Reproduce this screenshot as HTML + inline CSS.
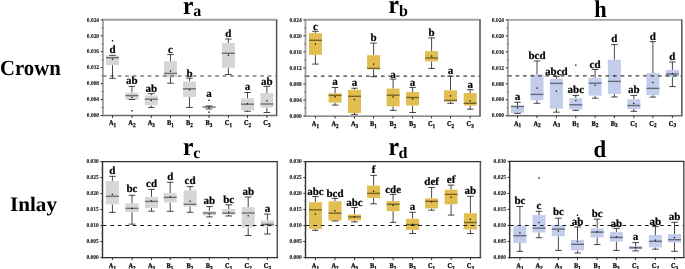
<!DOCTYPE html>
<html><head><meta charset="utf-8"><title>Boxplots</title>
<style>
html,body{margin:0;padding:0;background:#fff;}
body{width:685px;height:269px;overflow:hidden;}
svg{display:block;will-change:transform;text-rendering:geometricPrecision;font-family:"Liberation Serif",serif;font-weight:bold;}
.wk{stroke:#000;stroke-opacity:0.72;stroke-width:1.0;}
.md{stroke:#000;stroke-opacity:0.48;stroke-width:1.4;}
.dot{fill:#111;}
.dashT{stroke:#3a3a3a;stroke-width:1.2;stroke-dasharray:3.7 3.8;}
.dashB{stroke:#1a1a1a;stroke-width:1.2;stroke-dasharray:3.7 3.8;}
.frT{stroke:#a0a0a0;stroke-width:1.9;}
.frB{stroke:#2e2e2e;stroke-width:1.4;}
.frR{stroke:#555;stroke-width:1.5;}
.frX{stroke:#6a6a6a;stroke-width:1.45;}
.tk{stroke:#333;stroke-width:1.0;}
.tkm{stroke:#666;stroke-width:0.9;}
.lt{font-size:11px;text-anchor:middle;fill:#000;stroke:#000;stroke-width:0.22;}
.yl{font-size:6px;text-anchor:end;fill:#111;stroke:#111;stroke-width:0.1;}
.xl{font-size:7.4px;fill:#000;stroke:#000;stroke-width:0.25;}
.xs{font-size:6px;}
.ttl{font-size:24px;fill:#000;}
.sub{font-size:16px;fill:#000;}
.row{font-size:20.5px;fill:#000;}
</style></head>
<body>
<svg width="685" height="269" viewBox="0 0 685 269">
<text transform="translate(0 75.4) scale(0.96 1)" class="row" style="font-size:21.6px">Crown</text>
<text transform="translate(10 211.4) scale(1.03 1)" class="row">Inlay</text>
<text transform="translate(183 13.9) scale(0.92 1)" class="ttl" style="font-size:25.5px">r</text>
<text transform="translate(193.2 16.2) scale(1 1)" class="sub">a</text>
<text transform="translate(388.4 13.3) scale(0.92 1)" class="ttl" style="font-size:25.5px">r</text>
<text transform="translate(398.9 15.8) scale(1 1)" class="sub">b</text>
<text transform="translate(594.2 16.6) scale(0.93 1)" class="ttl">h</text>
<circle cx="191.5" cy="3.1" r="1.45" fill="#000"/>
<circle cx="396.8" cy="2.3" r="1.45" fill="#000"/>
<circle cx="191.5" cy="144.7" r="1.45" fill="#000"/>
<circle cx="397.0" cy="144.3" r="1.45" fill="#000"/>
<text transform="translate(183 155) scale(0.92 1)" class="ttl" style="font-size:25.5px">r</text>
<text transform="translate(193.2 158.0) scale(1 1)" class="sub">c</text>
<text transform="translate(388.4 154.9) scale(0.92 1)" class="ttl" style="font-size:25.5px">r</text>
<text transform="translate(398.6 157.5) scale(1 1)" class="sub">d</text>
<text transform="translate(593.6 157.2) scale(0.95 1)" class="ttl">d</text>
<line x1="112.5" y1="55.3" x2="112.5" y2="55.4" class="wk"/>
<line x1="112.5" y1="65.1" x2="112.5" y2="78.3" class="wk"/>
<rect x="106" y="55.4" width="13" height="9.7" fill="#d6d6d6"/>
<line x1="109.2" y1="55.3" x2="115.8" y2="55.3" class="wk"/>
<line x1="109.2" y1="78.3" x2="115.8" y2="78.3" class="wk"/>
<line x1="106" y1="57.7" x2="119" y2="57.7" class="md"/>
<rect x="111.85" y="58.55" width="1.3" height="1.3" class="dot"/>
<rect x="111.8" y="40.1" width="1.4" height="1.4" class="dot"/>
<text transform="translate(112.5 53.4) scale(1.0 1)" class="lt">d</text>
<line x1="131.9" y1="86.4" x2="131.9" y2="92.7" class="wk"/>
<line x1="131.9" y1="99.8" x2="131.9" y2="99.5" class="wk"/>
<rect x="125.4" y="92.7" width="13" height="7.1" fill="#d6d6d6"/>
<line x1="128.6" y1="86.4" x2="135.2" y2="86.4" class="wk"/>
<line x1="128.6" y1="99.5" x2="135.2" y2="99.5" class="wk"/>
<line x1="125.4" y1="95.6" x2="138.4" y2="95.6" class="md"/>
<rect x="131.25" y="96.75" width="1.3" height="1.3" class="dot"/>
<rect x="131.2" y="110.1" width="1.4" height="1.4" class="dot"/>
<text transform="translate(131.9 84) scale(1.0 1)" class="lt">ab</text>
<line x1="151.3" y1="93.7" x2="151.3" y2="95.6" class="wk"/>
<line x1="151.3" y1="105.4" x2="151.3" y2="107.4" class="wk"/>
<rect x="144.8" y="95.6" width="13" height="9.8" fill="#d6d6d6"/>
<line x1="148" y1="93.7" x2="154.6" y2="93.7" class="wk"/>
<line x1="148" y1="107.4" x2="154.6" y2="107.4" class="wk"/>
<line x1="144.8" y1="99.2" x2="157.8" y2="99.2" class="md"/>
<rect x="150.65" y="99.75" width="1.3" height="1.3" class="dot"/>
<text transform="translate(151.3 92.1) scale(1.0 1)" class="lt">ab</text>
<line x1="170.5" y1="54.6" x2="170.5" y2="61.1" class="wk"/>
<line x1="170.5" y1="77.1" x2="170.5" y2="83.2" class="wk"/>
<rect x="164" y="61.1" width="13" height="16" fill="#d6d6d6"/>
<line x1="167.2" y1="54.6" x2="173.8" y2="54.6" class="wk"/>
<line x1="167.2" y1="83.2" x2="173.8" y2="83.2" class="wk"/>
<line x1="164" y1="73.4" x2="177" y2="73.4" class="md"/>
<rect x="169.85" y="70.45" width="1.3" height="1.3" class="dot"/>
<text transform="translate(170.5 53.1) scale(1.0 1)" class="lt">c</text>
<line x1="189.5" y1="78.2" x2="189.5" y2="81.4" class="wk"/>
<line x1="189.5" y1="97" x2="189.5" y2="107.4" class="wk"/>
<rect x="183" y="81.4" width="13" height="15.6" fill="#d6d6d6"/>
<line x1="186.2" y1="78.2" x2="192.8" y2="78.2" class="wk"/>
<line x1="186.2" y1="107.4" x2="192.8" y2="107.4" class="wk"/>
<line x1="183" y1="88.8" x2="196" y2="88.8" class="md"/>
<rect x="188.85" y="89.05" width="1.3" height="1.3" class="dot"/>
<text transform="translate(189.5 77.3) scale(1.0 1)" class="lt">b</text>
<line x1="209" y1="106" x2="209" y2="106.5" class="wk"/>
<line x1="209" y1="107.8" x2="209" y2="109" class="wk"/>
<rect x="202.5" y="106.5" width="13" height="1.3" fill="#d6d6d6"/>
<line x1="205.7" y1="106" x2="212.3" y2="106" class="wk"/>
<line x1="205.7" y1="109" x2="212.3" y2="109" class="wk"/>
<line x1="202.5" y1="107" x2="215.5" y2="107" class="md"/>
<rect x="208.35" y="106.35" width="1.3" height="1.3" class="dot"/>
<rect x="208.3" y="99.6" width="1.4" height="1.4" class="dot"/>
<rect x="208.3" y="111.5" width="1.4" height="1.4" class="dot"/>
<text transform="translate(209 97) scale(1.0 1)" class="lt">a</text>
<line x1="228.4" y1="39" x2="228.4" y2="43.1" class="wk"/>
<line x1="228.4" y1="67.8" x2="228.4" y2="74.5" class="wk"/>
<rect x="221.9" y="43.1" width="13" height="24.7" fill="#d6d6d6"/>
<line x1="225.1" y1="39" x2="231.7" y2="39" class="wk"/>
<line x1="225.1" y1="74.5" x2="231.7" y2="74.5" class="wk"/>
<line x1="221.9" y1="53.3" x2="234.9" y2="53.3" class="md"/>
<rect x="227.75" y="54.55" width="1.3" height="1.3" class="dot"/>
<text transform="translate(228.4 37.3) scale(1.0 1)" class="lt">d</text>
<line x1="247.5" y1="92.5" x2="247.5" y2="98.3" class="wk"/>
<line x1="247.5" y1="110.4" x2="247.5" y2="111.3" class="wk"/>
<rect x="241" y="98.3" width="13" height="12.1" fill="#d6d6d6"/>
<line x1="244.2" y1="92.5" x2="250.8" y2="92.5" class="wk"/>
<line x1="244.2" y1="111.3" x2="250.8" y2="111.3" class="wk"/>
<line x1="241" y1="104.2" x2="254" y2="104.2" class="md"/>
<rect x="246.85" y="103.05" width="1.3" height="1.3" class="dot"/>
<text transform="translate(247.5 89.9) scale(1.0 1)" class="lt">a</text>
<line x1="266.9" y1="86.4" x2="266.9" y2="93.1" class="wk"/>
<line x1="266.9" y1="107.4" x2="266.9" y2="112.5" class="wk"/>
<rect x="260.4" y="93.1" width="13" height="14.3" fill="#d6d6d6"/>
<line x1="263.6" y1="86.4" x2="270.2" y2="86.4" class="wk"/>
<line x1="263.6" y1="112.5" x2="270.2" y2="112.5" class="wk"/>
<line x1="260.4" y1="104" x2="273.4" y2="104" class="md"/>
<rect x="266.25" y="100.15" width="1.3" height="1.3" class="dot"/>
<text transform="translate(266.9 85.3) scale(1.0 1)" class="lt">ab</text>
<line x1="102.7" y1="76" x2="276.6" y2="76" class="dashT"/>
<line x1="102.1" y1="19.8" x2="277.4" y2="19.8" class="frT"/>
<line x1="276.6" y1="19.8" x2="276.6" y2="115.5" class="frR"/>
<line x1="102.1" y1="115.5" x2="277.4" y2="115.5" class="frX"/>
<line x1="102.9" y1="19.8" x2="102.9" y2="116.3" class="frT"/>
<line x1="100.7" y1="19.8" x2="102.9" y2="19.8" class="tk"/>
<text transform="translate(99.1 21.55) scale(0.91 1)" class="yl">0.024</text>
<line x1="101.6" y1="27.78" x2="103.5" y2="27.78" class="tkm"/>
<line x1="100.7" y1="35.75" x2="102.9" y2="35.75" class="tk"/>
<text transform="translate(99.1 37.5) scale(0.91 1)" class="yl">0.020</text>
<line x1="101.6" y1="43.73" x2="103.5" y2="43.73" class="tkm"/>
<line x1="100.7" y1="51.7" x2="102.9" y2="51.7" class="tk"/>
<text transform="translate(99.1 53.45) scale(0.91 1)" class="yl">0.016</text>
<line x1="101.6" y1="59.68" x2="103.5" y2="59.68" class="tkm"/>
<line x1="100.7" y1="67.65" x2="102.9" y2="67.65" class="tk"/>
<text transform="translate(99.1 69.4) scale(0.91 1)" class="yl">0.012</text>
<line x1="101.6" y1="75.62" x2="103.5" y2="75.62" class="tkm"/>
<line x1="100.7" y1="83.6" x2="102.9" y2="83.6" class="tk"/>
<text transform="translate(99.1 85.35) scale(0.91 1)" class="yl">0.008</text>
<line x1="101.6" y1="91.58" x2="103.5" y2="91.58" class="tkm"/>
<line x1="100.7" y1="99.55" x2="102.9" y2="99.55" class="tk"/>
<text transform="translate(99.1 101.3) scale(0.91 1)" class="yl">0.004</text>
<line x1="101.6" y1="107.52" x2="103.5" y2="107.52" class="tkm"/>
<line x1="100.7" y1="115.5" x2="102.9" y2="115.5" class="tk"/>
<text transform="translate(99.1 117.25) scale(0.91 1)" class="yl">0.000</text>
<line x1="112.5" y1="115.5" x2="112.5" y2="117.9" class="tk"/>
<text transform="translate(108.9 125.3) scale(0.86 1)" class="xl">A<tspan class="xs" dy="1.8">1</tspan></text>
<line x1="131.9" y1="115.5" x2="131.9" y2="117.9" class="tk"/>
<text transform="translate(128.3 125.3) scale(0.86 1)" class="xl">A<tspan class="xs" dy="1.8">2</tspan></text>
<line x1="151.3" y1="115.5" x2="151.3" y2="117.9" class="tk"/>
<text transform="translate(147.7 125.3) scale(0.86 1)" class="xl">A<tspan class="xs" dy="1.8">3</tspan></text>
<line x1="170.5" y1="115.5" x2="170.5" y2="117.9" class="tk"/>
<text transform="translate(166.9 125.3) scale(0.86 1)" class="xl">B<tspan class="xs" dy="1.8">1</tspan></text>
<line x1="189.5" y1="115.5" x2="189.5" y2="117.9" class="tk"/>
<text transform="translate(185.9 125.3) scale(0.86 1)" class="xl">B<tspan class="xs" dy="1.8">2</tspan></text>
<line x1="209" y1="115.5" x2="209" y2="117.9" class="tk"/>
<text transform="translate(205.4 125.3) scale(0.86 1)" class="xl">B<tspan class="xs" dy="1.8">3</tspan></text>
<line x1="228.4" y1="115.5" x2="228.4" y2="117.9" class="tk"/>
<text transform="translate(224.8 125.3) scale(0.86 1)" class="xl">C<tspan class="xs" dy="1.8">1</tspan></text>
<line x1="247.5" y1="115.5" x2="247.5" y2="117.9" class="tk"/>
<text transform="translate(243.9 125.3) scale(0.86 1)" class="xl">C<tspan class="xs" dy="1.8">2</tspan></text>
<line x1="266.9" y1="115.5" x2="266.9" y2="117.9" class="tk"/>
<text transform="translate(263.3 125.3) scale(0.86 1)" class="xl">C<tspan class="xs" dy="1.8">3</tspan></text>
<line x1="315.4" y1="31.3" x2="315.4" y2="33.2" class="wk"/>
<line x1="315.4" y1="54.8" x2="315.4" y2="64.1" class="wk"/>
<rect x="308.9" y="33.2" width="13" height="21.6" fill="#e2be50"/>
<line x1="312.1" y1="31.3" x2="318.7" y2="31.3" class="wk"/>
<line x1="312.1" y1="64.1" x2="318.7" y2="64.1" class="wk"/>
<line x1="308.9" y1="40.3" x2="321.9" y2="40.3" class="md"/>
<rect x="314.75" y="43.35" width="1.3" height="1.3" class="dot"/>
<text transform="translate(315.4 29.7) scale(1.0 1)" class="lt">c</text>
<line x1="335.1" y1="87.5" x2="335.1" y2="93.3" class="wk"/>
<line x1="335.1" y1="102.6" x2="335.1" y2="105.1" class="wk"/>
<rect x="328.6" y="93.3" width="13" height="9.3" fill="#e2be50"/>
<line x1="331.8" y1="87.5" x2="338.4" y2="87.5" class="wk"/>
<line x1="331.8" y1="105.1" x2="338.4" y2="105.1" class="wk"/>
<line x1="328.6" y1="95.4" x2="341.6" y2="95.4" class="md"/>
<rect x="334.45" y="96.15" width="1.3" height="1.3" class="dot"/>
<text transform="translate(335.1 85.3) scale(1.0 1)" class="lt">a</text>
<line x1="354.5" y1="88.2" x2="354.5" y2="89.8" class="wk"/>
<line x1="354.5" y1="113" x2="354.5" y2="114.4" class="wk"/>
<rect x="348" y="89.8" width="13" height="23.2" fill="#e2be50"/>
<line x1="351.2" y1="88.2" x2="357.8" y2="88.2" class="wk"/>
<line x1="351.2" y1="114.4" x2="357.8" y2="114.4" class="wk"/>
<line x1="348" y1="96.3" x2="361" y2="96.3" class="md"/>
<rect x="353.85" y="98.85" width="1.3" height="1.3" class="dot"/>
<text transform="translate(354.5 85.6) scale(1.0 1)" class="lt">a</text>
<line x1="373.6" y1="43.1" x2="373.6" y2="55.2" class="wk"/>
<line x1="373.6" y1="69.3" x2="373.6" y2="76.7" class="wk"/>
<rect x="367.1" y="55.2" width="13" height="14.1" fill="#e2be50"/>
<line x1="370.3" y1="43.1" x2="376.9" y2="43.1" class="wk"/>
<line x1="370.3" y1="76.7" x2="376.9" y2="76.7" class="wk"/>
<line x1="367.1" y1="68.4" x2="380.1" y2="68.4" class="md"/>
<rect x="372.95" y="63.45" width="1.3" height="1.3" class="dot"/>
<text transform="translate(373.6 41.3) scale(1.0 1)" class="lt">b</text>
<line x1="393.1" y1="79.1" x2="393.1" y2="88.6" class="wk"/>
<line x1="393.1" y1="106.3" x2="393.1" y2="110.4" class="wk"/>
<rect x="386.6" y="88.6" width="13" height="17.7" fill="#e2be50"/>
<line x1="389.8" y1="79.1" x2="396.4" y2="79.1" class="wk"/>
<line x1="389.8" y1="110.4" x2="396.4" y2="110.4" class="wk"/>
<line x1="386.6" y1="95.2" x2="399.6" y2="95.2" class="md"/>
<rect x="392.45" y="96.25" width="1.3" height="1.3" class="dot"/>
<text transform="translate(393.1 78.1) scale(1.0 1)" class="lt">a</text>
<line x1="412.6" y1="87.4" x2="412.6" y2="92" class="wk"/>
<line x1="412.6" y1="105.5" x2="412.6" y2="112.5" class="wk"/>
<rect x="406.1" y="92" width="13" height="13.5" fill="#e2be50"/>
<line x1="409.3" y1="87.4" x2="415.9" y2="87.4" class="wk"/>
<line x1="409.3" y1="112.5" x2="415.9" y2="112.5" class="wk"/>
<line x1="406.1" y1="97.5" x2="419.1" y2="97.5" class="md"/>
<rect x="411.95" y="98.35" width="1.3" height="1.3" class="dot"/>
<text transform="translate(412.6 85.6) scale(1.0 1)" class="lt">a</text>
<line x1="431.6" y1="37.9" x2="431.6" y2="51.1" class="wk"/>
<line x1="431.6" y1="61.3" x2="431.6" y2="68.4" class="wk"/>
<rect x="425.1" y="51.1" width="13" height="10.2" fill="#e2be50"/>
<line x1="428.3" y1="37.9" x2="434.9" y2="37.9" class="wk"/>
<line x1="428.3" y1="68.4" x2="434.9" y2="68.4" class="wk"/>
<line x1="425.1" y1="58" x2="438.1" y2="58" class="md"/>
<rect x="430.95" y="55.45" width="1.3" height="1.3" class="dot"/>
<text transform="translate(431.6 35.7) scale(1.0 1)" class="lt">b</text>
<line x1="450.5" y1="76.2" x2="450.5" y2="90.3" class="wk"/>
<line x1="450.5" y1="101.4" x2="450.5" y2="103.3" class="wk"/>
<rect x="444" y="90.3" width="13" height="11.1" fill="#e2be50"/>
<line x1="447.2" y1="76.2" x2="453.8" y2="76.2" class="wk"/>
<line x1="447.2" y1="103.3" x2="453.8" y2="103.3" class="wk"/>
<line x1="444" y1="100.5" x2="457" y2="100.5" class="md"/>
<rect x="449.85" y="95.25" width="1.3" height="1.3" class="dot"/>
<text transform="translate(450.5 74.1) scale(1.0 1)" class="lt">a</text>
<line x1="470.2" y1="89.7" x2="470.2" y2="93.1" class="wk"/>
<line x1="470.2" y1="105.5" x2="470.2" y2="109.2" class="wk"/>
<rect x="463.7" y="93.1" width="13" height="12.4" fill="#e2be50"/>
<line x1="466.9" y1="89.7" x2="473.5" y2="89.7" class="wk"/>
<line x1="466.9" y1="109.2" x2="473.5" y2="109.2" class="wk"/>
<line x1="463.7" y1="103.3" x2="476.7" y2="103.3" class="md"/>
<rect x="469.55" y="100.25" width="1.3" height="1.3" class="dot"/>
<text transform="translate(470.2 88.1) scale(1.0 1)" class="lt">a</text>
<line x1="305.9" y1="76.2" x2="480" y2="76.2" class="dashT"/>
<line x1="304.7" y1="19.8" x2="480.8" y2="19.8" class="frT"/>
<line x1="480" y1="19.8" x2="480" y2="116.1" class="frR"/>
<line x1="304.7" y1="116.1" x2="480.8" y2="116.1" class="frX"/>
<line x1="305.5" y1="19.8" x2="305.5" y2="116.9" class="frT"/>
<line x1="303.3" y1="19.8" x2="305.5" y2="19.8" class="tk"/>
<text transform="translate(301.7 21.55) scale(0.91 1)" class="yl">0.024</text>
<line x1="304.2" y1="27.83" x2="306.1" y2="27.83" class="tkm"/>
<line x1="303.3" y1="35.85" x2="305.5" y2="35.85" class="tk"/>
<text transform="translate(301.7 37.6) scale(0.91 1)" class="yl">0.020</text>
<line x1="304.2" y1="43.88" x2="306.1" y2="43.88" class="tkm"/>
<line x1="303.3" y1="51.9" x2="305.5" y2="51.9" class="tk"/>
<text transform="translate(301.7 53.65) scale(0.91 1)" class="yl">0.016</text>
<line x1="304.2" y1="59.93" x2="306.1" y2="59.93" class="tkm"/>
<line x1="303.3" y1="67.95" x2="305.5" y2="67.95" class="tk"/>
<text transform="translate(301.7 69.7) scale(0.91 1)" class="yl">0.012</text>
<line x1="304.2" y1="75.98" x2="306.1" y2="75.98" class="tkm"/>
<line x1="303.3" y1="84" x2="305.5" y2="84" class="tk"/>
<text transform="translate(301.7 85.75) scale(0.91 1)" class="yl">0.008</text>
<line x1="304.2" y1="92.03" x2="306.1" y2="92.03" class="tkm"/>
<line x1="303.3" y1="100.05" x2="305.5" y2="100.05" class="tk"/>
<text transform="translate(301.7 101.8) scale(0.91 1)" class="yl">0.004</text>
<line x1="304.2" y1="108.08" x2="306.1" y2="108.08" class="tkm"/>
<line x1="303.3" y1="116.1" x2="305.5" y2="116.1" class="tk"/>
<text transform="translate(301.7 117.85) scale(0.91 1)" class="yl">0.000</text>
<line x1="315.4" y1="116.1" x2="315.4" y2="118.5" class="tk"/>
<text transform="translate(311.8 125.9) scale(0.86 1)" class="xl">A<tspan class="xs" dy="1.8">1</tspan></text>
<line x1="335.1" y1="116.1" x2="335.1" y2="118.5" class="tk"/>
<text transform="translate(331.5 125.9) scale(0.86 1)" class="xl">A<tspan class="xs" dy="1.8">2</tspan></text>
<line x1="354.5" y1="116.1" x2="354.5" y2="118.5" class="tk"/>
<text transform="translate(350.9 125.9) scale(0.86 1)" class="xl">A<tspan class="xs" dy="1.8">3</tspan></text>
<line x1="373.6" y1="116.1" x2="373.6" y2="118.5" class="tk"/>
<text transform="translate(370 125.9) scale(0.86 1)" class="xl">B<tspan class="xs" dy="1.8">1</tspan></text>
<line x1="393.1" y1="116.1" x2="393.1" y2="118.5" class="tk"/>
<text transform="translate(389.5 125.9) scale(0.86 1)" class="xl">B<tspan class="xs" dy="1.8">2</tspan></text>
<line x1="412.6" y1="116.1" x2="412.6" y2="118.5" class="tk"/>
<text transform="translate(409 125.9) scale(0.86 1)" class="xl">B<tspan class="xs" dy="1.8">3</tspan></text>
<line x1="431.6" y1="116.1" x2="431.6" y2="118.5" class="tk"/>
<text transform="translate(428 125.9) scale(0.86 1)" class="xl">C<tspan class="xs" dy="1.8">1</tspan></text>
<line x1="450.5" y1="116.1" x2="450.5" y2="118.5" class="tk"/>
<text transform="translate(446.9 125.9) scale(0.86 1)" class="xl">C<tspan class="xs" dy="1.8">2</tspan></text>
<line x1="470.2" y1="116.1" x2="470.2" y2="118.5" class="tk"/>
<text transform="translate(466.6 125.9) scale(0.86 1)" class="xl">C<tspan class="xs" dy="1.8">3</tspan></text>
<line x1="517.5" y1="102.3" x2="517.5" y2="105.7" class="wk"/>
<line x1="517.5" y1="113" x2="517.5" y2="113.4" class="wk"/>
<rect x="511" y="105.7" width="13" height="7.3" fill="#c2cdeb"/>
<line x1="514.2" y1="102.3" x2="520.8" y2="102.3" class="wk"/>
<line x1="514.2" y1="113.4" x2="520.8" y2="113.4" class="wk"/>
<line x1="511" y1="106.4" x2="524" y2="106.4" class="md"/>
<rect x="516.85" y="107.15" width="1.3" height="1.3" class="dot"/>
<text transform="translate(517.5 100) scale(1.0 1)" class="lt">a</text>
<line x1="537" y1="61" x2="537" y2="74.5" class="wk"/>
<line x1="537" y1="100.2" x2="537" y2="103.3" class="wk"/>
<rect x="530.5" y="74.5" width="13" height="25.7" fill="#c2cdeb"/>
<line x1="533.7" y1="61" x2="540.3" y2="61" class="wk"/>
<line x1="533.7" y1="103.3" x2="540.3" y2="103.3" class="wk"/>
<line x1="530.5" y1="94.4" x2="543.5" y2="94.4" class="md"/>
<rect x="536.35" y="87.45" width="1.3" height="1.3" class="dot"/>
<text transform="translate(537 58.6) scale(1.0 1)" class="lt">bcd</text>
<line x1="556.4" y1="76.4" x2="556.4" y2="78.8" class="wk"/>
<line x1="556.4" y1="108.7" x2="556.4" y2="112.2" class="wk"/>
<rect x="549.9" y="78.8" width="13" height="29.9" fill="#c2cdeb"/>
<line x1="553.1" y1="76.4" x2="559.7" y2="76.4" class="wk"/>
<line x1="553.1" y1="112.2" x2="559.7" y2="112.2" class="wk"/>
<line x1="549.9" y1="83.4" x2="562.9" y2="83.4" class="md"/>
<rect x="555.75" y="90.45" width="1.3" height="1.3" class="dot"/>
<text transform="translate(556.4 74.6) scale(1.0 1)" class="lt">abcd</text>
<line x1="575.8" y1="95.4" x2="575.8" y2="98.1" class="wk"/>
<line x1="575.8" y1="109.5" x2="575.8" y2="110.4" class="wk"/>
<rect x="569.3" y="98.1" width="13" height="11.4" fill="#c2cdeb"/>
<line x1="572.5" y1="95.4" x2="579.1" y2="95.4" class="wk"/>
<line x1="572.5" y1="110.4" x2="579.1" y2="110.4" class="wk"/>
<line x1="569.3" y1="104.8" x2="582.3" y2="104.8" class="md"/>
<rect x="575.15" y="99.85" width="1.3" height="1.3" class="dot"/>
<rect x="575.1" y="64.5" width="1.4" height="1.4" class="dot"/>
<text transform="translate(575.8 93.3) scale(1.0 1)" class="lt">abc</text>
<line x1="595.1" y1="69.5" x2="595.1" y2="77.8" class="wk"/>
<line x1="595.1" y1="95.6" x2="595.1" y2="98.2" class="wk"/>
<rect x="588.6" y="77.8" width="13" height="17.8" fill="#c2cdeb"/>
<line x1="591.8" y1="69.5" x2="598.4" y2="69.5" class="wk"/>
<line x1="591.8" y1="98.2" x2="598.4" y2="98.2" class="wk"/>
<line x1="588.6" y1="83.2" x2="601.6" y2="83.2" class="md"/>
<rect x="594.45" y="84.65" width="1.3" height="1.3" class="dot"/>
<text transform="translate(595.1 68.1) scale(1.0 1)" class="lt">cd</text>
<line x1="614.4" y1="44.6" x2="614.4" y2="59.7" class="wk"/>
<line x1="614.4" y1="94" x2="614.4" y2="97" class="wk"/>
<rect x="607.9" y="59.7" width="13" height="34.3" fill="#c2cdeb"/>
<line x1="611.1" y1="44.6" x2="617.7" y2="44.6" class="wk"/>
<line x1="611.1" y1="97" x2="617.7" y2="97" class="wk"/>
<line x1="607.9" y1="81.4" x2="620.9" y2="81.4" class="md"/>
<rect x="613.75" y="75.15" width="1.3" height="1.3" class="dot"/>
<text transform="translate(614.4 42.2) scale(1.0 1)" class="lt">d</text>
<line x1="633.8" y1="95.4" x2="633.8" y2="99.3" class="wk"/>
<line x1="633.8" y1="109" x2="633.8" y2="111.3" class="wk"/>
<rect x="627.3" y="99.3" width="13" height="9.7" fill="#c2cdeb"/>
<line x1="630.5" y1="95.4" x2="637.1" y2="95.4" class="wk"/>
<line x1="630.5" y1="111.3" x2="637.1" y2="111.3" class="wk"/>
<line x1="627.3" y1="105.5" x2="640.3" y2="105.5" class="md"/>
<rect x="633.15" y="102.75" width="1.3" height="1.3" class="dot"/>
<text transform="translate(633.8 93.3) scale(1.0 1)" class="lt">ab</text>
<line x1="652.9" y1="41.6" x2="652.9" y2="73" class="wk"/>
<line x1="652.9" y1="95.2" x2="652.9" y2="97.1" class="wk"/>
<rect x="646.4" y="73" width="13" height="22.2" fill="#c2cdeb"/>
<line x1="649.6" y1="41.6" x2="656.2" y2="41.6" class="wk"/>
<line x1="649.6" y1="97.1" x2="656.2" y2="97.1" class="wk"/>
<line x1="646.4" y1="88.4" x2="659.4" y2="88.4" class="md"/>
<rect x="652.25" y="81.85" width="1.3" height="1.3" class="dot"/>
<text transform="translate(652.9 40) scale(1.0 1)" class="lt">d</text>
<line x1="672.4" y1="62" x2="672.4" y2="69.9" class="wk"/>
<line x1="672.4" y1="76.9" x2="672.4" y2="86.6" class="wk"/>
<rect x="665.9" y="69.9" width="13" height="7" fill="#c2cdeb"/>
<line x1="669.1" y1="62" x2="675.7" y2="62" class="wk"/>
<line x1="669.1" y1="86.6" x2="675.7" y2="86.6" class="wk"/>
<line x1="665.9" y1="74" x2="678.9" y2="74" class="md"/>
<rect x="671.75" y="72.95" width="1.3" height="1.3" class="dot"/>
<text transform="translate(672.4 59.9) scale(1.0 1)" class="lt">d</text>
<line x1="508" y1="75.8" x2="681.8" y2="75.8" class="dashT"/>
<line x1="507.1" y1="19.9" x2="682.6" y2="19.9" class="frT"/>
<line x1="681.8" y1="19.9" x2="681.8" y2="115.7" class="frR"/>
<line x1="507.1" y1="115.7" x2="682.6" y2="115.7" class="frX"/>
<line x1="507.9" y1="19.9" x2="507.9" y2="116.5" class="frT"/>
<line x1="505.7" y1="19.9" x2="507.9" y2="19.9" class="tk"/>
<text transform="translate(504.1 21.65) scale(0.91 1)" class="yl">0.024</text>
<line x1="506.6" y1="27.88" x2="508.5" y2="27.88" class="tkm"/>
<line x1="505.7" y1="35.87" x2="507.9" y2="35.87" class="tk"/>
<text transform="translate(504.1 37.62) scale(0.91 1)" class="yl">0.020</text>
<line x1="506.6" y1="43.85" x2="508.5" y2="43.85" class="tkm"/>
<line x1="505.7" y1="51.83" x2="507.9" y2="51.83" class="tk"/>
<text transform="translate(504.1 53.58) scale(0.91 1)" class="yl">0.016</text>
<line x1="506.6" y1="59.82" x2="508.5" y2="59.82" class="tkm"/>
<line x1="505.7" y1="67.8" x2="507.9" y2="67.8" class="tk"/>
<text transform="translate(504.1 69.55) scale(0.91 1)" class="yl">0.012</text>
<line x1="506.6" y1="75.78" x2="508.5" y2="75.78" class="tkm"/>
<line x1="505.7" y1="83.77" x2="507.9" y2="83.77" class="tk"/>
<text transform="translate(504.1 85.52) scale(0.91 1)" class="yl">0.008</text>
<line x1="506.6" y1="91.75" x2="508.5" y2="91.75" class="tkm"/>
<line x1="505.7" y1="99.73" x2="507.9" y2="99.73" class="tk"/>
<text transform="translate(504.1 101.48) scale(0.91 1)" class="yl">0.004</text>
<line x1="506.6" y1="107.72" x2="508.5" y2="107.72" class="tkm"/>
<line x1="505.7" y1="115.7" x2="507.9" y2="115.7" class="tk"/>
<text transform="translate(504.1 117.45) scale(0.91 1)" class="yl">0.000</text>
<line x1="517.5" y1="115.7" x2="517.5" y2="118.1" class="tk"/>
<text transform="translate(513.9 125.5) scale(0.86 1)" class="xl">A<tspan class="xs" dy="1.8">1</tspan></text>
<line x1="537" y1="115.7" x2="537" y2="118.1" class="tk"/>
<text transform="translate(533.4 125.5) scale(0.86 1)" class="xl">A<tspan class="xs" dy="1.8">2</tspan></text>
<line x1="556.4" y1="115.7" x2="556.4" y2="118.1" class="tk"/>
<text transform="translate(552.8 125.5) scale(0.86 1)" class="xl">A<tspan class="xs" dy="1.8">3</tspan></text>
<line x1="575.8" y1="115.7" x2="575.8" y2="118.1" class="tk"/>
<text transform="translate(572.2 125.5) scale(0.86 1)" class="xl">B<tspan class="xs" dy="1.8">1</tspan></text>
<line x1="595.1" y1="115.7" x2="595.1" y2="118.1" class="tk"/>
<text transform="translate(591.5 125.5) scale(0.86 1)" class="xl">B<tspan class="xs" dy="1.8">2</tspan></text>
<line x1="614.4" y1="115.7" x2="614.4" y2="118.1" class="tk"/>
<text transform="translate(610.8 125.5) scale(0.86 1)" class="xl">B<tspan class="xs" dy="1.8">3</tspan></text>
<line x1="633.8" y1="115.7" x2="633.8" y2="118.1" class="tk"/>
<text transform="translate(630.2 125.5) scale(0.86 1)" class="xl">C<tspan class="xs" dy="1.8">1</tspan></text>
<line x1="652.9" y1="115.7" x2="652.9" y2="118.1" class="tk"/>
<text transform="translate(649.3 125.5) scale(0.86 1)" class="xl">C<tspan class="xs" dy="1.8">2</tspan></text>
<line x1="672.4" y1="115.7" x2="672.4" y2="118.1" class="tk"/>
<text transform="translate(668.8 125.5) scale(0.86 1)" class="xl">C<tspan class="xs" dy="1.8">3</tspan></text>
<line x1="112.4" y1="176.3" x2="112.4" y2="181" class="wk"/>
<line x1="112.4" y1="204.4" x2="112.4" y2="212.3" class="wk"/>
<rect x="105.9" y="181" width="13" height="23.4" fill="#d6d6d6"/>
<line x1="109.1" y1="176.3" x2="115.7" y2="176.3" class="wk"/>
<line x1="109.1" y1="212.3" x2="115.7" y2="212.3" class="wk"/>
<line x1="105.9" y1="196.3" x2="118.9" y2="196.3" class="md"/>
<rect x="111.75" y="193.75" width="1.3" height="1.3" class="dot"/>
<text transform="translate(112.4 174.3) scale(1.0 1)" class="lt">d</text>
<line x1="132" y1="195.3" x2="132" y2="203.3" class="wk"/>
<line x1="132" y1="212.1" x2="132" y2="224.2" class="wk"/>
<rect x="125.5" y="203.3" width="13" height="8.8" fill="#d6d6d6"/>
<line x1="128.7" y1="195.3" x2="135.3" y2="195.3" class="wk"/>
<line x1="128.7" y1="224.2" x2="135.3" y2="224.2" class="wk"/>
<line x1="125.5" y1="208.4" x2="138.5" y2="208.4" class="md"/>
<rect x="131.35" y="207.75" width="1.3" height="1.3" class="dot"/>
<text transform="translate(132 192.3) scale(1.0 1)" class="lt">bc</text>
<line x1="151.5" y1="189.4" x2="151.5" y2="196.8" class="wk"/>
<line x1="151.5" y1="208" x2="151.5" y2="211.2" class="wk"/>
<rect x="145" y="196.8" width="13" height="11.2" fill="#d6d6d6"/>
<line x1="148.2" y1="189.4" x2="154.8" y2="189.4" class="wk"/>
<line x1="148.2" y1="211.2" x2="154.8" y2="211.2" class="wk"/>
<line x1="145" y1="201.4" x2="158" y2="201.4" class="md"/>
<rect x="150.85" y="200.25" width="1.3" height="1.3" class="dot"/>
<text transform="translate(151.5 187.3) scale(1.0 1)" class="lt">cd</text>
<line x1="170.2" y1="182.3" x2="170.2" y2="193.1" class="wk"/>
<line x1="170.2" y1="202.5" x2="170.2" y2="211.3" class="wk"/>
<rect x="163.7" y="193.1" width="13" height="9.4" fill="#d6d6d6"/>
<line x1="166.9" y1="182.3" x2="173.5" y2="182.3" class="wk"/>
<line x1="166.9" y1="211.3" x2="173.5" y2="211.3" class="wk"/>
<line x1="163.7" y1="197.4" x2="176.7" y2="197.4" class="md"/>
<rect x="169.55" y="196.15" width="1.3" height="1.3" class="dot"/>
<text transform="translate(170.2 180.2) scale(1.0 1)" class="lt">d</text>
<line x1="190.1" y1="186.6" x2="190.1" y2="190.3" class="wk"/>
<line x1="190.1" y1="206.5" x2="190.1" y2="212.3" class="wk"/>
<rect x="183.6" y="190.3" width="13" height="16.2" fill="#d6d6d6"/>
<line x1="186.8" y1="186.6" x2="193.4" y2="186.6" class="wk"/>
<line x1="186.8" y1="212.3" x2="193.4" y2="212.3" class="wk"/>
<line x1="183.6" y1="204.3" x2="196.6" y2="204.3" class="md"/>
<rect x="189.45" y="200.55" width="1.3" height="1.3" class="dot"/>
<text transform="translate(190.1 184) scale(1.0 1)" class="lt">cd</text>
<line x1="209.4" y1="206.6" x2="209.4" y2="211.3" class="wk"/>
<line x1="209.4" y1="215.4" x2="209.4" y2="216.9" class="wk"/>
<rect x="202.9" y="211.3" width="13" height="4.1" fill="#d6d6d6"/>
<line x1="206.1" y1="206.6" x2="212.7" y2="206.6" class="wk"/>
<line x1="206.1" y1="216.9" x2="212.7" y2="216.9" class="wk"/>
<line x1="202.9" y1="213" x2="215.9" y2="213" class="md"/>
<rect x="208.75" y="213.45" width="1.3" height="1.3" class="dot"/>
<rect x="208.7" y="222.5" width="1.4" height="1.4" class="dot"/>
<text transform="translate(209.4 204.4) scale(1.0 1)" class="lt">ab</text>
<line x1="228.7" y1="204.8" x2="228.7" y2="209" class="wk"/>
<line x1="228.7" y1="214.5" x2="228.7" y2="216" class="wk"/>
<rect x="222.2" y="209" width="13" height="5.5" fill="#d6d6d6"/>
<line x1="225.4" y1="204.8" x2="232" y2="204.8" class="wk"/>
<line x1="225.4" y1="216" x2="232" y2="216" class="wk"/>
<line x1="222.2" y1="213.2" x2="235.2" y2="213.2" class="md"/>
<rect x="228.05" y="211.65" width="1.3" height="1.3" class="dot"/>
<text transform="translate(228.7 202.5) scale(1.0 1)" class="lt">bc</text>
<line x1="248.2" y1="197" x2="248.2" y2="207.1" class="wk"/>
<line x1="248.2" y1="227.5" x2="248.2" y2="235.5" class="wk"/>
<rect x="241.7" y="207.1" width="13" height="20.4" fill="#d6d6d6"/>
<line x1="244.9" y1="197" x2="251.5" y2="197" class="wk"/>
<line x1="244.9" y1="235.5" x2="251.5" y2="235.5" class="wk"/>
<line x1="241.7" y1="213" x2="254.7" y2="213" class="md"/>
<rect x="247.55" y="215.15" width="1.3" height="1.3" class="dot"/>
<text transform="translate(248.2 194.6) scale(1.0 1)" class="lt">ab</text>
<line x1="267.4" y1="214.1" x2="267.4" y2="220.5" class="wk"/>
<line x1="267.4" y1="226.6" x2="267.4" y2="234" class="wk"/>
<rect x="260.9" y="220.5" width="13" height="6.1" fill="#d6d6d6"/>
<line x1="264.1" y1="214.1" x2="270.7" y2="214.1" class="wk"/>
<line x1="264.1" y1="234" x2="270.7" y2="234" class="wk"/>
<line x1="260.9" y1="224.4" x2="273.9" y2="224.4" class="md"/>
<rect x="266.75" y="223.75" width="1.3" height="1.3" class="dot"/>
<text transform="translate(267.4 212) scale(1.0 1)" class="lt">a</text>
<line x1="102.8" y1="225.5" x2="277.3" y2="225.5" class="dashB"/>
<line x1="101.7" y1="161.6" x2="278.1" y2="161.6" class="frB"/>
<line x1="277.3" y1="161.6" x2="277.3" y2="257.6" class="frR"/>
<line x1="101.7" y1="257.6" x2="278.1" y2="257.6" class="frB"/>
<line x1="102.5" y1="161.6" x2="102.5" y2="258.4" class="frB"/>
<line x1="100.3" y1="161.6" x2="102.5" y2="161.6" class="tk"/>
<text transform="translate(98.7 163.35) scale(0.91 1)" class="yl">0.030</text>
<line x1="101.2" y1="169.6" x2="103.1" y2="169.6" class="tkm"/>
<line x1="100.3" y1="177.6" x2="102.5" y2="177.6" class="tk"/>
<text transform="translate(98.7 179.35) scale(0.91 1)" class="yl">0.025</text>
<line x1="101.2" y1="185.6" x2="103.1" y2="185.6" class="tkm"/>
<line x1="100.3" y1="193.6" x2="102.5" y2="193.6" class="tk"/>
<text transform="translate(98.7 195.35) scale(0.91 1)" class="yl">0.020</text>
<line x1="101.2" y1="201.6" x2="103.1" y2="201.6" class="tkm"/>
<line x1="100.3" y1="209.6" x2="102.5" y2="209.6" class="tk"/>
<text transform="translate(98.7 211.35) scale(0.91 1)" class="yl">0.015</text>
<line x1="101.2" y1="217.6" x2="103.1" y2="217.6" class="tkm"/>
<line x1="100.3" y1="225.6" x2="102.5" y2="225.6" class="tk"/>
<text transform="translate(98.7 227.35) scale(0.91 1)" class="yl">0.010</text>
<line x1="101.2" y1="233.6" x2="103.1" y2="233.6" class="tkm"/>
<line x1="100.3" y1="241.6" x2="102.5" y2="241.6" class="tk"/>
<text transform="translate(98.7 243.35) scale(0.91 1)" class="yl">0.005</text>
<line x1="101.2" y1="249.6" x2="103.1" y2="249.6" class="tkm"/>
<line x1="100.3" y1="257.6" x2="102.5" y2="257.6" class="tk"/>
<text transform="translate(98.7 259.35) scale(0.91 1)" class="yl">0.000</text>
<line x1="112.4" y1="257.6" x2="112.4" y2="260" class="tk"/>
<text transform="translate(108.8 267.7) scale(0.86 1)" class="xl">A<tspan class="xs" dy="1.8">1</tspan></text>
<line x1="132" y1="257.6" x2="132" y2="260" class="tk"/>
<text transform="translate(128.4 267.7) scale(0.86 1)" class="xl">A<tspan class="xs" dy="1.8">2</tspan></text>
<line x1="151.5" y1="257.6" x2="151.5" y2="260" class="tk"/>
<text transform="translate(147.9 267.7) scale(0.86 1)" class="xl">A<tspan class="xs" dy="1.8">3</tspan></text>
<line x1="170.2" y1="257.6" x2="170.2" y2="260" class="tk"/>
<text transform="translate(166.6 267.7) scale(0.86 1)" class="xl">B<tspan class="xs" dy="1.8">1</tspan></text>
<line x1="190.1" y1="257.6" x2="190.1" y2="260" class="tk"/>
<text transform="translate(186.5 267.7) scale(0.86 1)" class="xl">B<tspan class="xs" dy="1.8">2</tspan></text>
<line x1="209.4" y1="257.6" x2="209.4" y2="260" class="tk"/>
<text transform="translate(205.8 267.7) scale(0.86 1)" class="xl">B<tspan class="xs" dy="1.8">3</tspan></text>
<line x1="228.7" y1="257.6" x2="228.7" y2="260" class="tk"/>
<text transform="translate(225.1 267.7) scale(0.86 1)" class="xl">C<tspan class="xs" dy="1.8">1</tspan></text>
<line x1="248.2" y1="257.6" x2="248.2" y2="260" class="tk"/>
<text transform="translate(244.6 267.7) scale(0.86 1)" class="xl">C<tspan class="xs" dy="1.8">2</tspan></text>
<line x1="267.4" y1="257.6" x2="267.4" y2="260" class="tk"/>
<text transform="translate(263.8 267.7) scale(0.86 1)" class="xl">C<tspan class="xs" dy="1.8">3</tspan></text>
<line x1="315.4" y1="196.6" x2="315.4" y2="202.2" class="wk"/>
<line x1="315.4" y1="229" x2="315.4" y2="230.3" class="wk"/>
<rect x="308.9" y="202.2" width="13" height="26.8" fill="#e2be50"/>
<line x1="312.1" y1="196.6" x2="318.7" y2="196.6" class="wk"/>
<line x1="312.1" y1="230.3" x2="318.7" y2="230.3" class="wk"/>
<line x1="308.9" y1="209.8" x2="321.9" y2="209.8" class="md"/>
<rect x="314.75" y="213.45" width="1.3" height="1.3" class="dot"/>
<text transform="translate(315.4 194.8) scale(1.0 1)" class="lt">abc</text>
<line x1="335" y1="198.4" x2="335" y2="201.3" class="wk"/>
<line x1="335" y1="220.6" x2="335" y2="221" class="wk"/>
<rect x="328.5" y="201.3" width="13" height="19.3" fill="#e2be50"/>
<line x1="331.7" y1="198.4" x2="338.3" y2="198.4" class="wk"/>
<line x1="331.7" y1="221" x2="338.3" y2="221" class="wk"/>
<line x1="328.5" y1="213.2" x2="341.5" y2="213.2" class="md"/>
<rect x="334.35" y="210.15" width="1.3" height="1.3" class="dot"/>
<text transform="translate(335 196.6) scale(1.0 1)" class="lt">bcd</text>
<line x1="354.5" y1="207.5" x2="354.5" y2="214.5" class="wk"/>
<line x1="354.5" y1="220.6" x2="354.5" y2="221.9" class="wk"/>
<rect x="348" y="214.5" width="13" height="6.1" fill="#e2be50"/>
<line x1="351.2" y1="207.5" x2="357.8" y2="207.5" class="wk"/>
<line x1="351.2" y1="221.9" x2="357.8" y2="221.9" class="wk"/>
<line x1="348" y1="216.9" x2="361" y2="216.9" class="md"/>
<rect x="353.85" y="216.25" width="1.3" height="1.3" class="dot"/>
<text transform="translate(354.5 205.5) scale(1.0 1)" class="lt">abc</text>
<line x1="373.6" y1="175.4" x2="373.6" y2="185.6" class="wk"/>
<line x1="373.6" y1="198" x2="373.6" y2="203.8" class="wk"/>
<rect x="367.1" y="185.6" width="13" height="12.4" fill="#e2be50"/>
<line x1="370.3" y1="175.4" x2="376.9" y2="175.4" class="wk"/>
<line x1="370.3" y1="203.8" x2="376.9" y2="203.8" class="wk"/>
<line x1="367.1" y1="193.4" x2="380.1" y2="193.4" class="md"/>
<rect x="372.95" y="190.55" width="1.3" height="1.3" class="dot"/>
<text transform="translate(373.6 172.8) scale(1.0 1)" class="lt">f</text>
<line x1="393.1" y1="194.4" x2="393.1" y2="201.1" class="wk"/>
<line x1="393.1" y1="211.2" x2="393.1" y2="222.3" class="wk"/>
<rect x="386.6" y="201.1" width="13" height="10.1" fill="#e2be50"/>
<line x1="389.8" y1="194.4" x2="396.4" y2="194.4" class="wk"/>
<line x1="389.8" y1="222.3" x2="396.4" y2="222.3" class="wk"/>
<line x1="386.6" y1="204.3" x2="399.6" y2="204.3" class="md"/>
<rect x="392.45" y="204.75" width="1.3" height="1.3" class="dot"/>
<text transform="translate(393.1 192.8) scale(1.0 1)" class="lt">cde</text>
<line x1="412.6" y1="212.3" x2="412.6" y2="218.8" class="wk"/>
<line x1="412.6" y1="229.9" x2="412.6" y2="233.5" class="wk"/>
<rect x="406.1" y="218.8" width="13" height="11.1" fill="#e2be50"/>
<line x1="409.3" y1="212.3" x2="415.9" y2="212.3" class="wk"/>
<line x1="409.3" y1="233.5" x2="415.9" y2="233.5" class="wk"/>
<line x1="406.1" y1="224.6" x2="419.1" y2="224.6" class="md"/>
<rect x="411.95" y="223.75" width="1.3" height="1.3" class="dot"/>
<text transform="translate(412.6 209.8) scale(1.0 1)" class="lt">a</text>
<line x1="431.6" y1="187.5" x2="431.6" y2="198.4" class="wk"/>
<line x1="431.6" y1="208.4" x2="431.6" y2="210.2" class="wk"/>
<rect x="425.1" y="198.4" width="13" height="10" fill="#e2be50"/>
<line x1="428.3" y1="187.5" x2="434.9" y2="187.5" class="wk"/>
<line x1="428.3" y1="210.2" x2="434.9" y2="210.2" class="wk"/>
<line x1="425.1" y1="201.3" x2="438.1" y2="201.3" class="md"/>
<rect x="430.95" y="201.15" width="1.3" height="1.3" class="dot"/>
<text transform="translate(431.6 185.3) scale(1.0 1)" class="lt">def</text>
<line x1="451.1" y1="185.1" x2="451.1" y2="189.7" class="wk"/>
<line x1="451.1" y1="204.3" x2="451.1" y2="215.1" class="wk"/>
<rect x="444.6" y="189.7" width="13" height="14.6" fill="#e2be50"/>
<line x1="447.8" y1="185.1" x2="454.4" y2="185.1" class="wk"/>
<line x1="447.8" y1="215.1" x2="454.4" y2="215.1" class="wk"/>
<line x1="444.6" y1="194.4" x2="457.6" y2="194.4" class="md"/>
<rect x="450.45" y="196.75" width="1.3" height="1.3" class="dot"/>
<text transform="translate(451.1 182.7) scale(1.0 1)" class="lt">ef</text>
<line x1="470.4" y1="196.3" x2="470.4" y2="213.2" class="wk"/>
<line x1="470.4" y1="229.4" x2="470.4" y2="233.5" class="wk"/>
<rect x="463.9" y="213.2" width="13" height="16.2" fill="#e2be50"/>
<line x1="467.1" y1="196.3" x2="473.7" y2="196.3" class="wk"/>
<line x1="467.1" y1="233.5" x2="473.7" y2="233.5" class="wk"/>
<line x1="463.9" y1="222.5" x2="476.9" y2="222.5" class="md"/>
<rect x="469.75" y="218.55" width="1.3" height="1.3" class="dot"/>
<text transform="translate(470.4 194.3) scale(1.0 1)" class="lt">ab</text>
<line x1="305.8" y1="225.5" x2="480.4" y2="225.5" class="dashB"/>
<line x1="304.7" y1="161.6" x2="481.2" y2="161.6" class="frB"/>
<line x1="480.4" y1="161.6" x2="480.4" y2="257.6" class="frR"/>
<line x1="304.7" y1="257.6" x2="481.2" y2="257.6" class="frB"/>
<line x1="305.5" y1="161.6" x2="305.5" y2="258.4" class="frB"/>
<line x1="303.3" y1="161.6" x2="305.5" y2="161.6" class="tk"/>
<text transform="translate(301.7 163.35) scale(0.91 1)" class="yl">0.030</text>
<line x1="304.2" y1="169.6" x2="306.1" y2="169.6" class="tkm"/>
<line x1="303.3" y1="177.6" x2="305.5" y2="177.6" class="tk"/>
<text transform="translate(301.7 179.35) scale(0.91 1)" class="yl">0.025</text>
<line x1="304.2" y1="185.6" x2="306.1" y2="185.6" class="tkm"/>
<line x1="303.3" y1="193.6" x2="305.5" y2="193.6" class="tk"/>
<text transform="translate(301.7 195.35) scale(0.91 1)" class="yl">0.020</text>
<line x1="304.2" y1="201.6" x2="306.1" y2="201.6" class="tkm"/>
<line x1="303.3" y1="209.6" x2="305.5" y2="209.6" class="tk"/>
<text transform="translate(301.7 211.35) scale(0.91 1)" class="yl">0.015</text>
<line x1="304.2" y1="217.6" x2="306.1" y2="217.6" class="tkm"/>
<line x1="303.3" y1="225.6" x2="305.5" y2="225.6" class="tk"/>
<text transform="translate(301.7 227.35) scale(0.91 1)" class="yl">0.010</text>
<line x1="304.2" y1="233.6" x2="306.1" y2="233.6" class="tkm"/>
<line x1="303.3" y1="241.6" x2="305.5" y2="241.6" class="tk"/>
<text transform="translate(301.7 243.35) scale(0.91 1)" class="yl">0.005</text>
<line x1="304.2" y1="249.6" x2="306.1" y2="249.6" class="tkm"/>
<line x1="303.3" y1="257.6" x2="305.5" y2="257.6" class="tk"/>
<text transform="translate(301.7 259.35) scale(0.91 1)" class="yl">0.000</text>
<line x1="315.4" y1="257.6" x2="315.4" y2="260" class="tk"/>
<text transform="translate(311.8 267.7) scale(0.86 1)" class="xl">A<tspan class="xs" dy="1.8">1</tspan></text>
<line x1="335" y1="257.6" x2="335" y2="260" class="tk"/>
<text transform="translate(331.4 267.7) scale(0.86 1)" class="xl">A<tspan class="xs" dy="1.8">2</tspan></text>
<line x1="354.5" y1="257.6" x2="354.5" y2="260" class="tk"/>
<text transform="translate(350.9 267.7) scale(0.86 1)" class="xl">A<tspan class="xs" dy="1.8">3</tspan></text>
<line x1="373.6" y1="257.6" x2="373.6" y2="260" class="tk"/>
<text transform="translate(370 267.7) scale(0.86 1)" class="xl">B<tspan class="xs" dy="1.8">1</tspan></text>
<line x1="393.1" y1="257.6" x2="393.1" y2="260" class="tk"/>
<text transform="translate(389.5 267.7) scale(0.86 1)" class="xl">B<tspan class="xs" dy="1.8">2</tspan></text>
<line x1="412.6" y1="257.6" x2="412.6" y2="260" class="tk"/>
<text transform="translate(409 267.7) scale(0.86 1)" class="xl">B<tspan class="xs" dy="1.8">3</tspan></text>
<line x1="431.6" y1="257.6" x2="431.6" y2="260" class="tk"/>
<text transform="translate(428 267.7) scale(0.86 1)" class="xl">C<tspan class="xs" dy="1.8">1</tspan></text>
<line x1="451.1" y1="257.6" x2="451.1" y2="260" class="tk"/>
<text transform="translate(447.5 267.7) scale(0.86 1)" class="xl">C<tspan class="xs" dy="1.8">2</tspan></text>
<line x1="470.4" y1="257.6" x2="470.4" y2="260" class="tk"/>
<text transform="translate(466.8 267.7) scale(0.86 1)" class="xl">C<tspan class="xs" dy="1.8">3</tspan></text>
<line x1="519.9" y1="206.5" x2="519.9" y2="225.7" class="wk"/>
<line x1="519.9" y1="243" x2="519.9" y2="251.3" class="wk"/>
<rect x="513.4" y="225.7" width="13" height="17.3" fill="#c2cdeb"/>
<line x1="516.6" y1="206.5" x2="523.2" y2="206.5" class="wk"/>
<line x1="516.6" y1="251.3" x2="523.2" y2="251.3" class="wk"/>
<line x1="513.4" y1="235.7" x2="526.4" y2="235.7" class="md"/>
<rect x="519.25" y="232.25" width="1.3" height="1.3" class="dot"/>
<text transform="translate(519.9 203.8) scale(1.0 1)" class="lt">bc</text>
<line x1="539" y1="211.3" x2="539" y2="215.1" class="wk"/>
<line x1="539" y1="232.5" x2="539" y2="237.7" class="wk"/>
<rect x="532.5" y="215.1" width="13" height="17.4" fill="#c2cdeb"/>
<line x1="535.7" y1="211.3" x2="542.3" y2="211.3" class="wk"/>
<line x1="535.7" y1="237.7" x2="542.3" y2="237.7" class="wk"/>
<line x1="532.5" y1="228.1" x2="545.5" y2="228.1" class="md"/>
<rect x="538.35" y="221.85" width="1.3" height="1.3" class="dot"/>
<rect x="538.3" y="177.3" width="1.4" height="1.4" class="dot"/>
<text transform="translate(539 209.4) scale(1.0 1)" class="lt">c</text>
<line x1="558.4" y1="218.2" x2="558.4" y2="225.1" class="wk"/>
<line x1="558.4" y1="236.3" x2="558.4" y2="250.4" class="wk"/>
<rect x="551.9" y="225.1" width="13" height="11.2" fill="#c2cdeb"/>
<line x1="555.1" y1="218.2" x2="561.7" y2="218.2" class="wk"/>
<line x1="555.1" y1="250.4" x2="561.7" y2="250.4" class="wk"/>
<line x1="551.9" y1="229.1" x2="564.9" y2="229.1" class="md"/>
<rect x="557.75" y="230.35" width="1.3" height="1.3" class="dot"/>
<text transform="translate(558.4 215.3) scale(1.0 1)" class="lt">bc</text>
<line x1="577.5" y1="227" x2="577.5" y2="239.8" class="wk"/>
<line x1="577.5" y1="250.4" x2="577.5" y2="253" class="wk"/>
<rect x="571" y="239.8" width="13" height="10.6" fill="#c2cdeb"/>
<line x1="574.2" y1="227" x2="580.8" y2="227" class="wk"/>
<line x1="574.2" y1="253" x2="580.8" y2="253" class="wk"/>
<line x1="571" y1="244.3" x2="584" y2="244.3" class="md"/>
<rect x="576.85" y="240.75" width="1.3" height="1.3" class="dot"/>
<rect x="576.8" y="214.6" width="1.4" height="1.4" class="dot"/>
<text transform="translate(577.5 224.6) scale(1.0 1)" class="lt">ab</text>
<line x1="597.2" y1="219.2" x2="597.2" y2="228.4" class="wk"/>
<line x1="597.2" y1="237.5" x2="597.2" y2="244.6" class="wk"/>
<rect x="590.7" y="228.4" width="13" height="9.1" fill="#c2cdeb"/>
<line x1="593.9" y1="219.2" x2="600.5" y2="219.2" class="wk"/>
<line x1="593.9" y1="244.6" x2="600.5" y2="244.6" class="wk"/>
<line x1="590.7" y1="232.1" x2="603.7" y2="232.1" class="md"/>
<rect x="596.55" y="231.15" width="1.3" height="1.3" class="dot"/>
<text transform="translate(597.2 217.2) scale(1.0 1)" class="lt">bc</text>
<line x1="616.4" y1="228.4" x2="616.4" y2="232.1" class="wk"/>
<line x1="616.4" y1="241.5" x2="616.4" y2="250.4" class="wk"/>
<rect x="609.9" y="232.1" width="13" height="9.4" fill="#c2cdeb"/>
<line x1="613.1" y1="228.4" x2="619.7" y2="228.4" class="wk"/>
<line x1="613.1" y1="250.4" x2="619.7" y2="250.4" class="wk"/>
<line x1="609.9" y1="237.4" x2="622.9" y2="237.4" class="md"/>
<rect x="615.75" y="236.15" width="1.3" height="1.3" class="dot"/>
<text transform="translate(616.4 226.5) scale(1.0 1)" class="lt">ab</text>
<line x1="635.6" y1="242.6" x2="635.6" y2="246" class="wk"/>
<line x1="635.6" y1="249.2" x2="635.6" y2="250.9" class="wk"/>
<rect x="629.1" y="246" width="13" height="3.2" fill="#c2cdeb"/>
<line x1="632.3" y1="242.6" x2="638.9" y2="242.6" class="wk"/>
<line x1="632.3" y1="250.9" x2="638.9" y2="250.9" class="wk"/>
<line x1="629.1" y1="247.8" x2="642.1" y2="247.8" class="md"/>
<rect x="634.95" y="246.95" width="1.3" height="1.3" class="dot"/>
<text transform="translate(635.6 240.3) scale(1.0 1)" class="lt">a</text>
<line x1="655.4" y1="226.6" x2="655.4" y2="235" class="wk"/>
<line x1="655.4" y1="247.4" x2="655.4" y2="249.2" class="wk"/>
<rect x="648.9" y="235" width="13" height="12.4" fill="#c2cdeb"/>
<line x1="652.1" y1="226.6" x2="658.7" y2="226.6" class="wk"/>
<line x1="652.1" y1="249.2" x2="658.7" y2="249.2" class="wk"/>
<line x1="648.9" y1="241.3" x2="661.9" y2="241.3" class="md"/>
<rect x="654.75" y="239.55" width="1.3" height="1.3" class="dot"/>
<text transform="translate(655.4 224.6) scale(1.0 1)" class="lt">ab</text>
<line x1="674.5" y1="222.3" x2="674.5" y2="234.1" class="wk"/>
<line x1="674.5" y1="242.5" x2="674.5" y2="251.3" class="wk"/>
<rect x="668" y="234.1" width="13" height="8.4" fill="#c2cdeb"/>
<line x1="671.2" y1="222.3" x2="677.8" y2="222.3" class="wk"/>
<line x1="671.2" y1="251.3" x2="677.8" y2="251.3" class="wk"/>
<line x1="668" y1="239.7" x2="681" y2="239.7" class="md"/>
<rect x="673.85" y="236.85" width="1.3" height="1.3" class="dot"/>
<text transform="translate(674.5 220) scale(1.0 1)" class="lt">ab</text>
<line x1="510" y1="225.5" x2="683.8" y2="225.5" class="dashB"/>
<line x1="508.9" y1="161.4" x2="684.6" y2="161.4" class="frB"/>
<line x1="683.8" y1="161.4" x2="683.8" y2="257.6" class="frR"/>
<line x1="508.9" y1="257.6" x2="684.6" y2="257.6" class="frB"/>
<line x1="509.7" y1="161.4" x2="509.7" y2="258.4" class="frB"/>
<line x1="507.5" y1="161.4" x2="509.7" y2="161.4" class="tk"/>
<text transform="translate(505.9 163.15) scale(0.91 1)" class="yl">0.030</text>
<line x1="508.4" y1="169.42" x2="510.3" y2="169.42" class="tkm"/>
<line x1="507.5" y1="177.43" x2="509.7" y2="177.43" class="tk"/>
<text transform="translate(505.9 179.18) scale(0.91 1)" class="yl">0.025</text>
<line x1="508.4" y1="185.45" x2="510.3" y2="185.45" class="tkm"/>
<line x1="507.5" y1="193.47" x2="509.7" y2="193.47" class="tk"/>
<text transform="translate(505.9 195.22) scale(0.91 1)" class="yl">0.020</text>
<line x1="508.4" y1="201.48" x2="510.3" y2="201.48" class="tkm"/>
<line x1="507.5" y1="209.5" x2="509.7" y2="209.5" class="tk"/>
<text transform="translate(505.9 211.25) scale(0.91 1)" class="yl">0.015</text>
<line x1="508.4" y1="217.52" x2="510.3" y2="217.52" class="tkm"/>
<line x1="507.5" y1="225.53" x2="509.7" y2="225.53" class="tk"/>
<text transform="translate(505.9 227.28) scale(0.91 1)" class="yl">0.010</text>
<line x1="508.4" y1="233.55" x2="510.3" y2="233.55" class="tkm"/>
<line x1="507.5" y1="241.57" x2="509.7" y2="241.57" class="tk"/>
<text transform="translate(505.9 243.32) scale(0.91 1)" class="yl">0.005</text>
<line x1="508.4" y1="249.58" x2="510.3" y2="249.58" class="tkm"/>
<line x1="507.5" y1="257.6" x2="509.7" y2="257.6" class="tk"/>
<text transform="translate(505.9 259.35) scale(0.91 1)" class="yl">0.000</text>
<line x1="519.9" y1="257.6" x2="519.9" y2="260" class="tk"/>
<text transform="translate(516.3 267.7) scale(0.86 1)" class="xl">A<tspan class="xs" dy="1.8">1</tspan></text>
<line x1="539" y1="257.6" x2="539" y2="260" class="tk"/>
<text transform="translate(535.4 267.7) scale(0.86 1)" class="xl">A<tspan class="xs" dy="1.8">2</tspan></text>
<line x1="558.4" y1="257.6" x2="558.4" y2="260" class="tk"/>
<text transform="translate(554.8 267.7) scale(0.86 1)" class="xl">A<tspan class="xs" dy="1.8">3</tspan></text>
<line x1="577.5" y1="257.6" x2="577.5" y2="260" class="tk"/>
<text transform="translate(573.9 267.7) scale(0.86 1)" class="xl">B<tspan class="xs" dy="1.8">1</tspan></text>
<line x1="597.2" y1="257.6" x2="597.2" y2="260" class="tk"/>
<text transform="translate(593.6 267.7) scale(0.86 1)" class="xl">B<tspan class="xs" dy="1.8">2</tspan></text>
<line x1="616.4" y1="257.6" x2="616.4" y2="260" class="tk"/>
<text transform="translate(612.8 267.7) scale(0.86 1)" class="xl">B<tspan class="xs" dy="1.8">3</tspan></text>
<line x1="635.6" y1="257.6" x2="635.6" y2="260" class="tk"/>
<text transform="translate(632 267.7) scale(0.86 1)" class="xl">C<tspan class="xs" dy="1.8">1</tspan></text>
<line x1="655.4" y1="257.6" x2="655.4" y2="260" class="tk"/>
<text transform="translate(651.8 267.7) scale(0.86 1)" class="xl">C<tspan class="xs" dy="1.8">2</tspan></text>
<line x1="674.5" y1="257.6" x2="674.5" y2="260" class="tk"/>
<text transform="translate(670.9 267.7) scale(0.86 1)" class="xl">C<tspan class="xs" dy="1.8">3</tspan></text>
</svg>
</body></html>
